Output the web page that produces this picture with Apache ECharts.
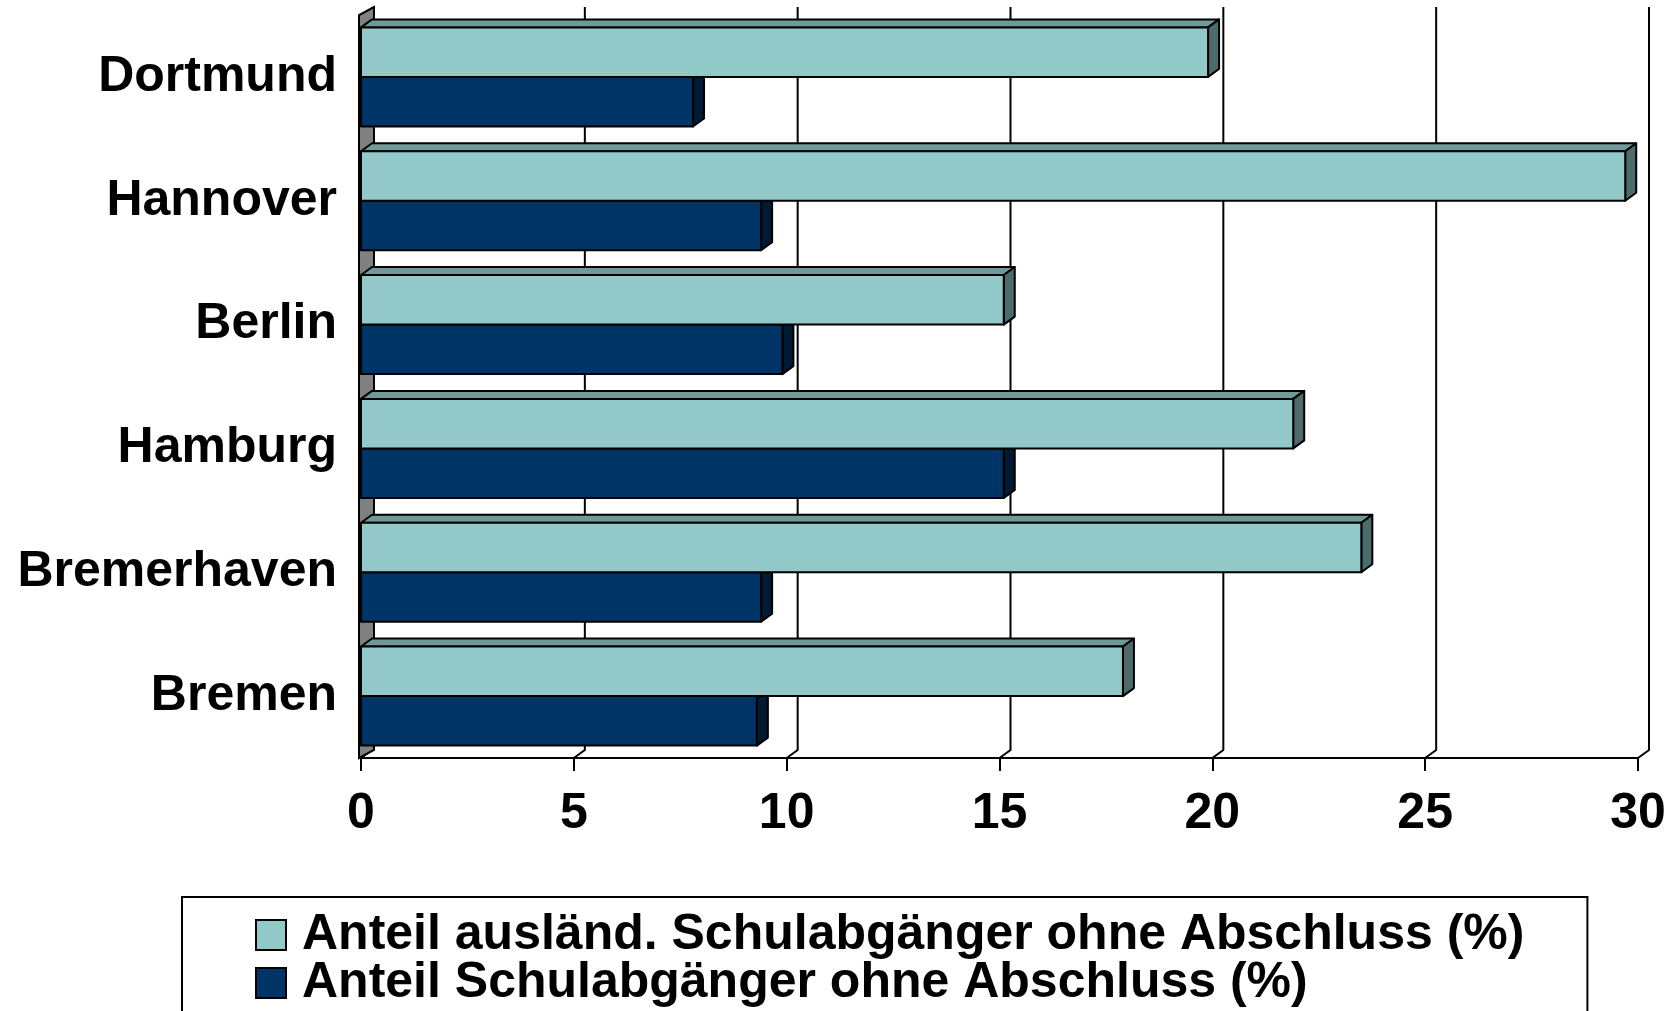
<!DOCTYPE html>
<html>
<head>
<meta charset="utf-8">
<script src="https://cdn.jsdelivr.net/npm/echarts@6/dist/echarts.min.js"></script>
<style>
html,body{margin:0;padding:0;background:#fff;}
#chart{width:1679px;height:1011px;}
</style>
</head>
<body>
<div id="chart"></div>
<script>
// ---- data ----
const cities = ['Dortmund', 'Hannover', 'Berlin', 'Hamburg', 'Bremerhaven', 'Bremen'];
const auslaend = [19.9, 29.7, 15.1, 21.9, 23.5, 17.9];
const gesamt = [7.8, 9.4, 9.9, 15.1, 9.4, 9.3];
const tickValues = [0, 5, 10, 15, 20, 25, 30];
const seriesNames = ['Anteil ausländ. Schulabgänger ohne Abschluss (%)', 'Anteil Schulabgänger ohne Abschluss (%)'];

// ---- style ----
const DX = 11, DY = -8;
const FONT = 'Liberation Sans, Arial, sans-serif';
const lightCol = {face: '#92C8C8', top: '#6F9A99', side: '#4D6B6B'};
const darkCol = {face: '#003366', top: '#00254A', side: '#001A33'};

function barRender(offsetFrac, col) {
  return function (params, api) {
    const v = api.value(0), c = api.value(1);
    const p0 = api.coord([0, c]);
    const p1 = api.coord([v, c]);
    const band = api.size([0, 1])[1];
    const h = band * 0.4;
    const y0 = p0[1] + offsetFrac * band;
    const x0 = p0[0], x1 = p1[0];
    const st = {stroke: '#000', lineWidth: 2, lineJoin: 'round'};
    return {
      type: 'group',
      children: [
        {type: 'polygon', shape: {points: [[x0, y0], [x1, y0], [x1 + DX, y0 + DY], [x0 + DX, y0 + DY]]},
          style: Object.assign({fill: col.top}, st)},
        {type: 'polygon', shape: {points: [[x1, y0], [x1 + DX, y0 + DY], [x1 + DX, y0 + DY + h], [x1, y0 + h]]},
          style: Object.assign({fill: col.side}, st)},
        {type: 'rect', shape: {x: x0, y: y0, width: x1 - x0, height: h},
          style: Object.assign({fill: col.face}, st)}
      ]
    };
  };
}

function gridRender(params, api) {
  const v = api.value(0);
  const cs = params.coordSys;
  const x = api.coord([v, 0])[0];
  const top = cs.y, bottom = cs.y + cs.height;
  return {
    type: 'polyline',
    shape: {points: [[x + DX, top + DY], [x + DX, bottom + DY], [x, bottom]]},
    style: {stroke: '#000', lineWidth: 2, fill: null}
  };
}

function wallRender(params, api) {
  const cs = params.coordSys;
  const x = api.coord([api.value(0), 0])[0];
  const top = cs.y, bottom = cs.y + cs.height;
  return {
    type: 'polygon',
    shape: {points: [[x - 2, bottom], [x + DX + 2, bottom + DY], [x + DX + 2, top + DY], [x - 2, top]]},
    style: {fill: '#808080', stroke: '#000', lineWidth: 2}
  };
}

const legendText = {color: '#000', fontFamily: FONT, fontWeight: 'bold', fontSize: 50, lineHeight: 48, padding: [0, 0, 0, 11]};
const legendBase = {orient: 'horizontal', itemWidth: 30, itemHeight: 30, itemGap: 0, icon: 'rect', textStyle: legendText};

const chart = echarts.init(document.getElementById('chart'), null, {renderer: 'canvas'});
chart.setOption({
  animation: false,
  backgroundColor: '#fff',
  grid: {left: 361, right: 41, top: 15, bottom: 253, containLabel: false},
  xAxis: {
    type: 'value', min: 0, max: 30, interval: 5,
    axisLine: {show: true, lineStyle: {color: '#000', width: 2}},
    axisTick: {show: true, length: 13, lineStyle: {color: '#000', width: 2}},
    axisLabel: {color: '#000', fontFamily: FONT, fontWeight: 'bold', fontSize: 50, margin: 31},
    splitLine: {show: false}
  },
  yAxis: {
    type: 'category', data: cities, inverse: true,
    axisLine: {show: false}, axisTick: {show: false}, splitLine: {show: false},
    axisLabel: {color: '#000', fontFamily: FONT, fontWeight: 'bold', fontSize: 50, margin: 24, padding: [5, 0, 0, 0]}
  },
  legend: [
    Object.assign({}, legendBase, {
      left: 182, top: 897, padding: [13, 63, 80, 73],
      borderColor: '#000', borderWidth: 2,
      data: [{name: seriesNames[0], itemStyle: {color: lightCol.face, borderColor: '#000', borderWidth: 2}}]
    }),
    Object.assign({}, legendBase, {
      left: 182, top: 958, padding: [0, 0, 0, 73],
      data: [{name: seriesNames[1], itemStyle: {color: darkCol.face, borderColor: '#000', borderWidth: 2}}]
    })
  ],
  series: [
    {type: 'custom', name: 'grid', z: 1, silent: true, renderItem: gridRender,
      encode: {x: 0, y: 1}, data: tickValues.map(v => [v, 0])},
    {type: 'custom', name: 'wall', z: 2, silent: true, renderItem: wallRender,
      encode: {x: 0, y: 1}, data: [[0, 0]]},
    {type: 'custom', name: seriesNames[1], z: 3, renderItem: barRender(0, darkCol),
      itemStyle: {color: darkCol.face},
      encode: {x: 0, y: 1}, data: gesamt.map((v, i) => [v, i])},
    {type: 'custom', name: seriesNames[0], z: 4, renderItem: barRender(-0.4, lightCol),
      itemStyle: {color: lightCol.face},
      encode: {x: 0, y: 1}, data: auslaend.map((v, i) => [v, i])}
  ]
});
</script>
</body>
</html>
